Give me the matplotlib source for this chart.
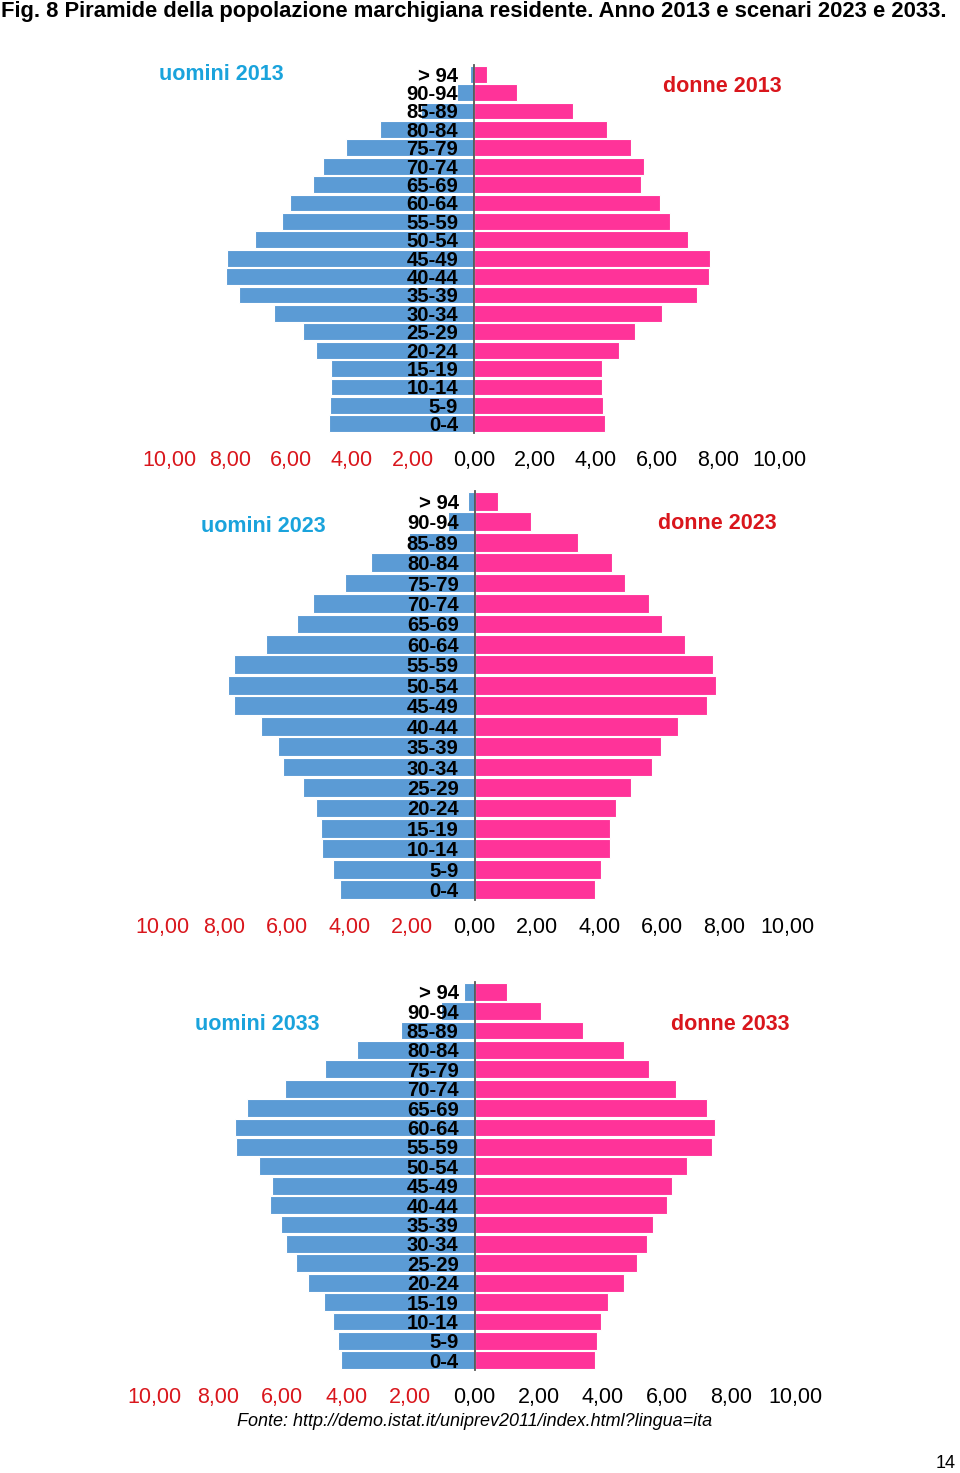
import matplotlib

matplotlib.use("Agg")
import matplotlib.pyplot as plt

plt.rcParams["font.family"] = ["Liberation Sans", "DejaVu Sans"]

# Age classes, bottom to top
AGE_CLASSES = ["0-4", "5-9", "10-14", "15-19", "20-24", "25-29", "30-34", "35-39",
               "40-44", "45-49", "50-54", "55-59", "60-64", "65-69", "70-74",
               "75-79", "80-84", "85-89", "90-94", "> 94"]

# Percent of population per class
MEN_2013 = [4.75, 4.72, 4.69, 4.69, 5.19, 5.62, 6.55, 7.71, 8.14, 8.11,
            7.18, 6.30, 6.03, 5.28, 4.96, 4.19, 3.08, 1.73, 0.56, 0.12]
WOMEN_2013 = [4.31, 4.24, 4.19, 4.19, 4.75, 5.29, 6.17, 7.30, 7.70, 7.74,
              7.01, 6.41, 6.11, 5.48, 5.56, 5.16, 4.35, 3.23, 1.42, 0.43]

MEN_2023 = [4.31, 4.53, 4.87, 4.90, 5.07, 5.49, 6.13, 6.28, 6.84, 7.71,
            7.90, 7.71, 6.68, 5.69, 5.18, 4.15, 3.31, 2.09, 0.85, 0.22]
WOMEN_2023 = [3.85, 4.04, 4.35, 4.34, 4.53, 5.00, 5.69, 5.96, 6.51, 7.44,
              7.74, 7.62, 6.74, 6.00, 5.59, 4.82, 4.41, 3.31, 1.81, 0.76]

MEN_2033 = [4.18, 4.26, 4.43, 4.71, 5.21, 5.57, 5.87, 6.03, 6.38, 6.32,
            6.71, 7.43, 7.46, 7.10, 5.91, 4.66, 3.68, 2.29, 1.03, 0.32]
WOMEN_2033 = [3.76, 3.82, 3.94, 4.18, 4.68, 5.07, 5.37, 5.56, 6.00, 6.15,
              6.62, 7.40, 7.50, 7.26, 6.29, 5.44, 4.68, 3.38, 2.06, 1.00]

TICK_VALUES = [-10, -8, -6, -4, -2, 0, 2, 4, 6, 8, 10]
TICK_LABELS = ["10,00", "8,00", "6,00", "4,00", "2,00", "0,00",
               "2,00", "4,00", "6,00", "8,00", "10,00"]

MEN_COLOR = "#5B9BD5"
WOMEN_COLOR = "#FF3399"
RED = "#D9161C"
CYAN = "#1AA3DC"

W, H = 960, 1473
fig = plt.figure(figsize=(W / 100, H / 100), dpi=100)


def px_axes(left, right, top, bottom):
    # pixel box -> figure fraction
    return fig.add_axes([left / W, 1 - bottom / H, (right - left) / W, (bottom - top) / H])


def pyramid(box, men, women, year, men_pos, women_pos):
    ax = px_axes(*box)
    y = range(len(AGE_CLASSES))
    ax.barh(y, [-m for m in men], height=0.92, color=MEN_COLOR,
            edgecolor="white", linewidth=0.8)
    ax.barh(y, women, height=0.92, color=WOMEN_COLOR,
            edgecolor="white", linewidth=0.8)
    ax.set_xlim(-10, 10)
    ax.set_ylim(-0.5, len(AGE_CLASSES) - 0.5)

    for s in ["top", "right", "bottom"]:
        ax.spines[s].set_visible(False)
    ax.spines["left"].set_position(("data", 0))
    ax.spines["left"].set_color("#555555")
    ax.spines["left"].set_linewidth(1.3)

    ax.set_yticks(list(y))
    ax.set_yticklabels(AGE_CLASSES, fontsize=14.6, fontweight="bold")
    ax.tick_params(axis="y", length=0, pad=11.5)

    ax.set_xticks(TICK_VALUES)
    ax.set_xticklabels(TICK_LABELS, fontsize=15.5)
    ax.tick_params(axis="x", length=0, pad=12.5)
    for v, lab in zip(TICK_VALUES, ax.get_xticklabels()):
        lab.set_color(RED if v < 0 else "black")

    fig.text(men_pos[0] / W, 1 - men_pos[1] / H, f"uomini {year}", color=CYAN,
             fontsize=15.5, fontweight="bold", ha="center", va="center")
    fig.text(women_pos[0] / W, 1 - women_pos[1] / H, f"donne {year}", color=RED,
             fontsize=15.5, fontweight="bold", ha="center", va="center")
    return ax


fig.text(1 / W, 1 - 12 / H,
         "Fig. 8 Piramide della popolazione marchigiana residente. Anno 2013 e scenari 2023 e 2033.",
         fontsize=15.8, fontweight="bold", ha="left", va="center")

pyramid((169, 779, 65, 433), MEN_2013, WOMEN_2013, 2013, (221, 74), (722, 86))
pyramid((162, 787, 491, 900), MEN_2023, WOMEN_2023, 2023, (263, 527), (717, 524))
pyramid((154, 795, 982, 1370), MEN_2033, WOMEN_2033, 2033, (257, 1025), (730, 1024))

fig.text(475 / W, 1 - 1421 / H,
         "Fonte: http://demo.istat.it/uniprev2011/index.html?lingua=ita",
         fontsize=13, style="italic", ha="center", va="center")
fig.text(946 / W, 1 - 1463 / H, "14", fontsize=13, ha="center", va="center")

fig.savefig("out.png", dpi=100)
